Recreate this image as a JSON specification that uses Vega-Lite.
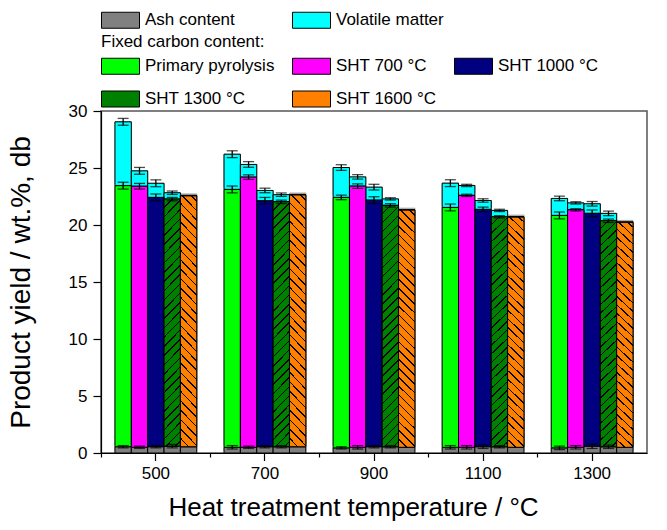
{
  "$schema": "https://vega.github.io/schema/vega-lite/v6.json",
  "width": 546,
  "height": 342,
  "autosize": {"type": "none"},
  "padding": {"left": 101, "top": 111, "right": 20, "bottom": 77},
  "config": {
    "font": "Liberation Sans",
    "view": {"stroke": "#555555", "strokeWidth": 1.5},
    "axis": {"grid": false, "domainColor": "black", "tickColor": "black", "labelColor": "black", "titleColor": "black", "labelFontSize": 17, "titleFontWeight": "normal", "domainWidth": 1.2, "tickWidth": 1.2},
    "legend": {"labelFontSize": 17, "labelColor": "black", "titleFontSize": 17, "titleFontWeight": "normal", "titleColor": "black", "padding": 0, "symbolType": "M-1,-1H3.75V1H-1Z", "symbolSize": 256, "symbolStrokeColor": "black", "symbolStrokeWidth": 1, "labelOffset": 27, "symbolOpacity": 1, "direction": "horizontal"}
  },
  "data": {"values": [
    {"t": 500, "s": "Primary pyrolysis", "c": "Ash content", "v": 0.55, "e": 0.1},
    {"t": 500, "s": "Primary pyrolysis", "c": "Fixed carbon", "v": 22.9, "e": 0.3},
    {"t": 500, "s": "Primary pyrolysis", "c": "Volatile matter", "v": 5.6, "e": 0.3},
    {"t": 500, "s": "SHT 700 °C", "c": "Ash content", "v": 0.5, "e": 0.1},
    {"t": 500, "s": "SHT 700 °C", "c": "Fixed carbon", "v": 22.9, "e": 0.25},
    {"t": 500, "s": "SHT 700 °C", "c": "Volatile matter", "v": 1.35, "e": 0.3},
    {"t": 500, "s": "SHT 1000 °C", "c": "Ash content", "v": 0.55, "e": 0.1},
    {"t": 500, "s": "SHT 1000 °C", "c": "Fixed carbon", "v": 21.87, "e": 0.3},
    {"t": 500, "s": "SHT 1000 °C", "c": "Volatile matter", "v": 1.24, "e": 0.3},
    {"t": 500, "s": "SHT 1300 °C", "c": "Ash content", "v": 0.6, "e": 0.15},
    {"t": 500, "s": "SHT 1300 °C", "c": "Fixed carbon", "v": 21.67, "e": 0.15},
    {"t": 500, "s": "SHT 1300 °C", "c": "Volatile matter", "v": 0.56, "e": 0.15},
    {"t": 500, "s": "SHT 1600 °C", "c": "Ash content", "v": 0.55, "e": 0},
    {"t": 500, "s": "SHT 1600 °C", "c": "Fixed carbon", "v": 22.0, "e": 0},
    {"t": 500, "s": "SHT 1600 °C", "c": "Volatile matter", "v": 0.05, "e": 0},
    {"t": 700, "s": "Primary pyrolysis", "c": "Ash content", "v": 0.5, "e": 0.15},
    {"t": 700, "s": "Primary pyrolysis", "c": "Fixed carbon", "v": 22.62, "e": 0.3},
    {"t": 700, "s": "Primary pyrolysis", "c": "Volatile matter", "v": 3.09, "e": 0.3},
    {"t": 700, "s": "SHT 700 °C", "c": "Ash content", "v": 0.5, "e": 0.1},
    {"t": 700, "s": "SHT 700 °C", "c": "Fixed carbon", "v": 23.7, "e": 0.2},
    {"t": 700, "s": "SHT 700 °C", "c": "Volatile matter", "v": 1.11, "e": 0.25},
    {"t": 700, "s": "SHT 1000 °C", "c": "Ash content", "v": 0.55, "e": 0.1},
    {"t": 700, "s": "SHT 1000 °C", "c": "Fixed carbon", "v": 21.57, "e": 0.3},
    {"t": 700, "s": "SHT 1000 °C", "c": "Volatile matter", "v": 0.91, "e": 0.2},
    {"t": 700, "s": "SHT 1300 °C", "c": "Ash content", "v": 0.55, "e": 0.1},
    {"t": 700, "s": "SHT 1300 °C", "c": "Fixed carbon", "v": 21.48, "e": 0.15},
    {"t": 700, "s": "SHT 1300 °C", "c": "Volatile matter", "v": 0.63, "e": 0.15},
    {"t": 700, "s": "SHT 1600 °C", "c": "Ash content", "v": 0.55, "e": 0},
    {"t": 700, "s": "SHT 1600 °C", "c": "Fixed carbon", "v": 22.08, "e": 0},
    {"t": 700, "s": "SHT 1600 °C", "c": "Volatile matter", "v": 0.05, "e": 0},
    {"t": 900, "s": "Primary pyrolysis", "c": "Ash content", "v": 0.45, "e": 0.1},
    {"t": 900, "s": "Primary pyrolysis", "c": "Fixed carbon", "v": 21.97, "e": 0.2},
    {"t": 900, "s": "Primary pyrolysis", "c": "Volatile matter", "v": 2.62, "e": 0.25},
    {"t": 900, "s": "SHT 700 °C", "c": "Ash content", "v": 0.5, "e": 0.15},
    {"t": 900, "s": "SHT 700 °C", "c": "Fixed carbon", "v": 22.91, "e": 0.2},
    {"t": 900, "s": "SHT 700 °C", "c": "Volatile matter", "v": 0.81, "e": 0.2},
    {"t": 900, "s": "SHT 1000 °C", "c": "Ash content", "v": 0.55, "e": 0.1},
    {"t": 900, "s": "SHT 1000 °C", "c": "Fixed carbon", "v": 21.63, "e": 0.3},
    {"t": 900, "s": "SHT 1000 °C", "c": "Volatile matter", "v": 1.14, "e": 0.25},
    {"t": 900, "s": "SHT 1300 °C", "c": "Ash content", "v": 0.55, "e": 0.1},
    {"t": 900, "s": "SHT 1300 °C", "c": "Fixed carbon", "v": 21.17, "e": 0.15},
    {"t": 900, "s": "SHT 1300 °C", "c": "Volatile matter", "v": 0.57, "e": 0.1},
    {"t": 900, "s": "SHT 1600 °C", "c": "Ash content", "v": 0.5, "e": 0},
    {"t": 900, "s": "SHT 1600 °C", "c": "Fixed carbon", "v": 20.8, "e": 0},
    {"t": 900, "s": "SHT 1600 °C", "c": "Volatile matter", "v": 0.05, "e": 0},
    {"t": 1100, "s": "Primary pyrolysis", "c": "Ash content", "v": 0.5, "e": 0.15},
    {"t": 1100, "s": "Primary pyrolysis", "c": "Fixed carbon", "v": 21.04, "e": 0.3},
    {"t": 1100, "s": "Primary pyrolysis", "c": "Volatile matter", "v": 2.13, "e": 0.3},
    {"t": 1100, "s": "SHT 700 °C", "c": "Ash content", "v": 0.5, "e": 0.15},
    {"t": 1100, "s": "SHT 700 °C", "c": "Fixed carbon", "v": 22.1, "e": 0.1},
    {"t": 1100, "s": "SHT 700 °C", "c": "Volatile matter", "v": 0.87, "e": 0.1},
    {"t": 1100, "s": "SHT 1000 °C", "c": "Ash content", "v": 0.55, "e": 0.15},
    {"t": 1100, "s": "SHT 1000 °C", "c": "Fixed carbon", "v": 20.82, "e": 0.2},
    {"t": 1100, "s": "SHT 1000 °C", "c": "Volatile matter", "v": 0.78, "e": 0.15},
    {"t": 1100, "s": "SHT 1300 °C", "c": "Ash content", "v": 0.55, "e": 0.1},
    {"t": 1100, "s": "SHT 1300 °C", "c": "Fixed carbon", "v": 20.17, "e": 0.1},
    {"t": 1100, "s": "SHT 1300 °C", "c": "Volatile matter", "v": 0.56, "e": 0.1},
    {"t": 1100, "s": "SHT 1600 °C", "c": "Ash content", "v": 0.5, "e": 0},
    {"t": 1100, "s": "SHT 1600 °C", "c": "Fixed carbon", "v": 20.19, "e": 0},
    {"t": 1100, "s": "SHT 1600 °C", "c": "Volatile matter", "v": 0.05, "e": 0},
    {"t": 1300, "s": "Primary pyrolysis", "c": "Ash content", "v": 0.45, "e": 0.15},
    {"t": 1300, "s": "Primary pyrolysis", "c": "Fixed carbon", "v": 20.39, "e": 0.3},
    {"t": 1300, "s": "Primary pyrolysis", "c": "Volatile matter", "v": 1.49, "e": 0.2},
    {"t": 1300, "s": "SHT 700 °C", "c": "Ash content", "v": 0.5, "e": 0.15},
    {"t": 1300, "s": "SHT 700 °C", "c": "Fixed carbon", "v": 20.83, "e": 0.1},
    {"t": 1300, "s": "SHT 700 °C", "c": "Volatile matter", "v": 0.61, "e": 0.1},
    {"t": 1300, "s": "SHT 1000 °C", "c": "Ash content", "v": 0.6, "e": 0.2},
    {"t": 1300, "s": "SHT 1000 °C", "c": "Fixed carbon", "v": 20.42, "e": 0.3},
    {"t": 1300, "s": "SHT 1000 °C", "c": "Volatile matter", "v": 0.84, "e": 0.2},
    {"t": 1300, "s": "SHT 1300 °C", "c": "Ash content", "v": 0.55, "e": 0.15},
    {"t": 1300, "s": "SHT 1300 °C", "c": "Fixed carbon", "v": 19.82, "e": 0.15},
    {"t": 1300, "s": "SHT 1300 °C", "c": "Volatile matter", "v": 0.65, "e": 0.2},
    {"t": 1300, "s": "SHT 1600 °C", "c": "Ash content", "v": 0.5, "e": 0},
    {"t": 1300, "s": "SHT 1600 °C", "c": "Fixed carbon", "v": 19.73, "e": 0},
    {"t": 1300, "s": "SHT 1600 °C", "c": "Volatile matter", "v": 0.05, "e": 0}
  ]},
  "transform": [
    {"stack": "v", "groupby": ["t", "s"], "sort": [{"field": "c", "order": "ascending"}], "as": ["y0", "y1"]}
  ],
  "layer": [
    {
      "mark": {"type": "bar", "fill": "#a8a8a8", "stroke": "#a8a8a8", "strokeWidth": 1, "xOffset": 2, "yOffset": -2},
      "encoding": {
        "x": {"field": "t", "type": "ordinal", "scale": {"paddingInner": 0.25, "paddingOuter": 0.128},
              "axis": {"orient": "bottom", "title": "Heat treatment temperature / °C", "titleFontSize": 26, "titleX": 252, "labelAngle": 0, "tickSize": 7.5, "labelPadding": 5, "titlePadding": 13}},
        "xOffset": {"field": "s", "type": "nominal", "sort": ["Primary pyrolysis", "SHT 700 °C", "SHT 1000 °C", "SHT 1300 °C", "SHT 1600 °C"], "scale": {"paddingInner": 0, "paddingOuter": 0}},
        "y": {"field": "y0", "type": "quantitative", "title": "Product yield / wt.%, db", "scale": {"domain": [0, 30], "nice": false},
              "axis": {"titleFontSize": 28, "values": [0, 2.5, 5, 7.5, 10, 12.5, 15, 17.5, 20, 22.5, 25, 27.5, 30], "labelExpr": "datum.value % 5 === 0 ? datum.label : ''", "tickSize": {"condition": {"test": "datum.value % 5 === 0", "value": 8}, "value": 4}, "labelPadding": 6, "titlePadding": 33}},
        "y2": {"field": "y1"}
      }
    },
    {
      "transform": [{"filter": "datum.c !== 'Fixed carbon'"}],
      "mark": {"type": "bar", "stroke": "black", "strokeWidth": 1},
      "encoding": {
        "x": {"field": "t", "type": "ordinal", "axis": null},
        "xOffset": {"field": "s", "type": "nominal", "sort": ["Primary pyrolysis", "SHT 700 °C", "SHT 1000 °C", "SHT 1300 °C", "SHT 1600 °C"]},
        "y": {"field": "y0", "type": "quantitative", "title": "Product yield / wt.%, db", "scale": {"domain": [0, 30], "nice": false}},
        "y2": {"field": "y1"},
        "fill": {"field": "c", "type": "nominal", "scale": {"domain": ["Ash content", "Volatile matter"], "range": ["#808080", "#00ffff"]},
                 "legend": {"orient": "none", "legendX": 0, "legendY": -99.5, "columns": 2, "title": null, "columnPadding": 55}}
      }
    },
    {
      "transform": [{"filter": "datum.c === 'Fixed carbon'"}],
      "mark": {"type": "bar", "stroke": "black", "strokeWidth": 1},
      "encoding": {
        "x": {"field": "t", "type": "ordinal", "axis": {"orient": "bottom", "bandPosition": -0.168, "labels": false, "title": null, "domain": false, "tickSize": 4}},
        "xOffset": {"field": "s", "type": "nominal", "sort": ["Primary pyrolysis", "SHT 700 °C", "SHT 1000 °C", "SHT 1300 °C", "SHT 1600 °C"]},
        "y": {"field": "y0", "type": "quantitative", "title": "Product yield / wt.%, db", "scale": {"domain": [0, 30], "nice": false}},
        "y2": {"field": "y1"},
        "fill": {"field": "s", "type": "nominal", "title": "Fixed carbon content:", "sort": ["Primary pyrolysis", "SHT 700 °C", "SHT 1000 °C", "SHT 1300 °C", "SHT 1600 °C"],
                 "scale": {"range": ["#00ff00", "#ff00ff", "#000080", "#008000", "#ff8000"]},
                 "legend": {"orient": "none", "legendX": 0, "legendY": -77, "columns": 3, "columnPadding": 15, "rowPadding": 12, "titlePadding": 6.5, "titleAnchor": "start"}}
      }
    },
    {
      "transform": [{"filter": "datum.c === 'Fixed carbon' && datum.s === 'SHT 1300 °C'"}],
      "mark": {"type": "bar", "stroke": "black", "strokeWidth": 1, "fill": {"gradient": "linear", "x1": 0, "y1": 0, "x2": 0.0725, "y2": 1.066, "stops": [
        {"offset": 0, "color": "#008000"},
        {"offset": 0.029, "color": "#008000"}, {"offset": 0.029, "color": "#000000"}, {"offset": 0.035, "color": "#000000"}, {"offset": 0.035, "color": "#008000"},
        {"offset": 0.064, "color": "#008000"}, {"offset": 0.064, "color": "#000000"}, {"offset": 0.07, "color": "#000000"}, {"offset": 0.07, "color": "#008000"},
        {"offset": 0.099, "color": "#008000"}, {"offset": 0.099, "color": "#000000"}, {"offset": 0.105, "color": "#000000"}, {"offset": 0.105, "color": "#008000"},
        {"offset": 0.134, "color": "#008000"}, {"offset": 0.134, "color": "#000000"}, {"offset": 0.14, "color": "#000000"}, {"offset": 0.14, "color": "#008000"},
        {"offset": 0.169, "color": "#008000"}, {"offset": 0.169, "color": "#000000"}, {"offset": 0.175, "color": "#000000"}, {"offset": 0.175, "color": "#008000"},
        {"offset": 0.204, "color": "#008000"}, {"offset": 0.204, "color": "#000000"}, {"offset": 0.21, "color": "#000000"}, {"offset": 0.21, "color": "#008000"},
        {"offset": 0.239, "color": "#008000"}, {"offset": 0.239, "color": "#000000"}, {"offset": 0.245, "color": "#000000"}, {"offset": 0.245, "color": "#008000"},
        {"offset": 0.274, "color": "#008000"}, {"offset": 0.274, "color": "#000000"}, {"offset": 0.28, "color": "#000000"}, {"offset": 0.28, "color": "#008000"},
        {"offset": 0.309, "color": "#008000"}, {"offset": 0.309, "color": "#000000"}, {"offset": 0.315, "color": "#000000"}, {"offset": 0.315, "color": "#008000"},
        {"offset": 0.344, "color": "#008000"}, {"offset": 0.344, "color": "#000000"}, {"offset": 0.35, "color": "#000000"}, {"offset": 0.35, "color": "#008000"},
        {"offset": 0.379, "color": "#008000"}, {"offset": 0.379, "color": "#000000"}, {"offset": 0.385, "color": "#000000"}, {"offset": 0.385, "color": "#008000"},
        {"offset": 0.414, "color": "#008000"}, {"offset": 0.414, "color": "#000000"}, {"offset": 0.42, "color": "#000000"}, {"offset": 0.42, "color": "#008000"},
        {"offset": 0.449, "color": "#008000"}, {"offset": 0.449, "color": "#000000"}, {"offset": 0.455, "color": "#000000"}, {"offset": 0.455, "color": "#008000"},
        {"offset": 0.484, "color": "#008000"}, {"offset": 0.484, "color": "#000000"}, {"offset": 0.49, "color": "#000000"}, {"offset": 0.49, "color": "#008000"},
        {"offset": 0.519, "color": "#008000"}, {"offset": 0.519, "color": "#000000"}, {"offset": 0.525, "color": "#000000"}, {"offset": 0.525, "color": "#008000"},
        {"offset": 0.554, "color": "#008000"}, {"offset": 0.554, "color": "#000000"}, {"offset": 0.56, "color": "#000000"}, {"offset": 0.56, "color": "#008000"},
        {"offset": 0.589, "color": "#008000"}, {"offset": 0.589, "color": "#000000"}, {"offset": 0.595, "color": "#000000"}, {"offset": 0.595, "color": "#008000"},
        {"offset": 0.624, "color": "#008000"}, {"offset": 0.624, "color": "#000000"}, {"offset": 0.63, "color": "#000000"}, {"offset": 0.63, "color": "#008000"},
        {"offset": 0.659, "color": "#008000"}, {"offset": 0.659, "color": "#000000"}, {"offset": 0.665, "color": "#000000"}, {"offset": 0.665, "color": "#008000"},
        {"offset": 0.694, "color": "#008000"}, {"offset": 0.694, "color": "#000000"}, {"offset": 0.7, "color": "#000000"}, {"offset": 0.7, "color": "#008000"},
        {"offset": 0.729, "color": "#008000"}, {"offset": 0.729, "color": "#000000"}, {"offset": 0.735, "color": "#000000"}, {"offset": 0.735, "color": "#008000"},
        {"offset": 0.764, "color": "#008000"}, {"offset": 0.764, "color": "#000000"}, {"offset": 0.77, "color": "#000000"}, {"offset": 0.77, "color": "#008000"},
        {"offset": 0.799, "color": "#008000"}, {"offset": 0.799, "color": "#000000"}, {"offset": 0.805, "color": "#000000"}, {"offset": 0.805, "color": "#008000"},
        {"offset": 0.834, "color": "#008000"}, {"offset": 0.834, "color": "#000000"}, {"offset": 0.84, "color": "#000000"}, {"offset": 0.84, "color": "#008000"},
        {"offset": 0.869, "color": "#008000"}, {"offset": 0.869, "color": "#000000"}, {"offset": 0.875, "color": "#000000"}, {"offset": 0.875, "color": "#008000"},
        {"offset": 0.904, "color": "#008000"}, {"offset": 0.904, "color": "#000000"}, {"offset": 0.91, "color": "#000000"}, {"offset": 0.91, "color": "#008000"},
        {"offset": 0.939, "color": "#008000"}, {"offset": 0.939, "color": "#000000"}, {"offset": 0.945, "color": "#000000"}, {"offset": 0.945, "color": "#008000"},
        {"offset": 0.974, "color": "#008000"}, {"offset": 0.974, "color": "#000000"}, {"offset": 0.98, "color": "#000000"}, {"offset": 0.98, "color": "#008000"},
        {"offset": 1, "color": "#008000"}]}},
      "encoding": {
        "x": {"field": "t", "type": "ordinal", "axis": null},
        "xOffset": {"field": "s", "type": "nominal", "sort": ["Primary pyrolysis", "SHT 700 °C", "SHT 1000 °C", "SHT 1300 °C", "SHT 1600 °C"]},
        "y": {"field": "y0", "type": "quantitative", "title": "Product yield / wt.%, db", "scale": {"domain": [0, 30], "nice": false}},
        "y2": {"field": "y1"}
      }
    },
    {
      "transform": [{"filter": "datum.c === 'Fixed carbon' && datum.s === 'SHT 1600 °C'"}],
      "mark": {"type": "bar", "stroke": "black", "strokeWidth": 1, "fill": {"gradient": "linear", "x1": 0, "y1": 1, "x2": 0.0725, "y2": -0.066, "stops": [
        {"offset": 0, "color": "#ff8000"},
        {"offset": 0.029, "color": "#ff8000"}, {"offset": 0.029, "color": "#000000"}, {"offset": 0.035, "color": "#000000"}, {"offset": 0.035, "color": "#ff8000"},
        {"offset": 0.064, "color": "#ff8000"}, {"offset": 0.064, "color": "#000000"}, {"offset": 0.07, "color": "#000000"}, {"offset": 0.07, "color": "#ff8000"},
        {"offset": 0.099, "color": "#ff8000"}, {"offset": 0.099, "color": "#000000"}, {"offset": 0.105, "color": "#000000"}, {"offset": 0.105, "color": "#ff8000"},
        {"offset": 0.134, "color": "#ff8000"}, {"offset": 0.134, "color": "#000000"}, {"offset": 0.14, "color": "#000000"}, {"offset": 0.14, "color": "#ff8000"},
        {"offset": 0.169, "color": "#ff8000"}, {"offset": 0.169, "color": "#000000"}, {"offset": 0.175, "color": "#000000"}, {"offset": 0.175, "color": "#ff8000"},
        {"offset": 0.204, "color": "#ff8000"}, {"offset": 0.204, "color": "#000000"}, {"offset": 0.21, "color": "#000000"}, {"offset": 0.21, "color": "#ff8000"},
        {"offset": 0.239, "color": "#ff8000"}, {"offset": 0.239, "color": "#000000"}, {"offset": 0.245, "color": "#000000"}, {"offset": 0.245, "color": "#ff8000"},
        {"offset": 0.274, "color": "#ff8000"}, {"offset": 0.274, "color": "#000000"}, {"offset": 0.28, "color": "#000000"}, {"offset": 0.28, "color": "#ff8000"},
        {"offset": 0.309, "color": "#ff8000"}, {"offset": 0.309, "color": "#000000"}, {"offset": 0.315, "color": "#000000"}, {"offset": 0.315, "color": "#ff8000"},
        {"offset": 0.344, "color": "#ff8000"}, {"offset": 0.344, "color": "#000000"}, {"offset": 0.35, "color": "#000000"}, {"offset": 0.35, "color": "#ff8000"},
        {"offset": 0.379, "color": "#ff8000"}, {"offset": 0.379, "color": "#000000"}, {"offset": 0.385, "color": "#000000"}, {"offset": 0.385, "color": "#ff8000"},
        {"offset": 0.414, "color": "#ff8000"}, {"offset": 0.414, "color": "#000000"}, {"offset": 0.42, "color": "#000000"}, {"offset": 0.42, "color": "#ff8000"},
        {"offset": 0.449, "color": "#ff8000"}, {"offset": 0.449, "color": "#000000"}, {"offset": 0.455, "color": "#000000"}, {"offset": 0.455, "color": "#ff8000"},
        {"offset": 0.484, "color": "#ff8000"}, {"offset": 0.484, "color": "#000000"}, {"offset": 0.49, "color": "#000000"}, {"offset": 0.49, "color": "#ff8000"},
        {"offset": 0.519, "color": "#ff8000"}, {"offset": 0.519, "color": "#000000"}, {"offset": 0.525, "color": "#000000"}, {"offset": 0.525, "color": "#ff8000"},
        {"offset": 0.554, "color": "#ff8000"}, {"offset": 0.554, "color": "#000000"}, {"offset": 0.56, "color": "#000000"}, {"offset": 0.56, "color": "#ff8000"},
        {"offset": 0.589, "color": "#ff8000"}, {"offset": 0.589, "color": "#000000"}, {"offset": 0.595, "color": "#000000"}, {"offset": 0.595, "color": "#ff8000"},
        {"offset": 0.624, "color": "#ff8000"}, {"offset": 0.624, "color": "#000000"}, {"offset": 0.63, "color": "#000000"}, {"offset": 0.63, "color": "#ff8000"},
        {"offset": 0.659, "color": "#ff8000"}, {"offset": 0.659, "color": "#000000"}, {"offset": 0.665, "color": "#000000"}, {"offset": 0.665, "color": "#ff8000"},
        {"offset": 0.694, "color": "#ff8000"}, {"offset": 0.694, "color": "#000000"}, {"offset": 0.7, "color": "#000000"}, {"offset": 0.7, "color": "#ff8000"},
        {"offset": 0.729, "color": "#ff8000"}, {"offset": 0.729, "color": "#000000"}, {"offset": 0.735, "color": "#000000"}, {"offset": 0.735, "color": "#ff8000"},
        {"offset": 0.764, "color": "#ff8000"}, {"offset": 0.764, "color": "#000000"}, {"offset": 0.77, "color": "#000000"}, {"offset": 0.77, "color": "#ff8000"},
        {"offset": 0.799, "color": "#ff8000"}, {"offset": 0.799, "color": "#000000"}, {"offset": 0.805, "color": "#000000"}, {"offset": 0.805, "color": "#ff8000"},
        {"offset": 0.834, "color": "#ff8000"}, {"offset": 0.834, "color": "#000000"}, {"offset": 0.84, "color": "#000000"}, {"offset": 0.84, "color": "#ff8000"},
        {"offset": 0.869, "color": "#ff8000"}, {"offset": 0.869, "color": "#000000"}, {"offset": 0.875, "color": "#000000"}, {"offset": 0.875, "color": "#ff8000"},
        {"offset": 0.904, "color": "#ff8000"}, {"offset": 0.904, "color": "#000000"}, {"offset": 0.91, "color": "#000000"}, {"offset": 0.91, "color": "#ff8000"},
        {"offset": 0.939, "color": "#ff8000"}, {"offset": 0.939, "color": "#000000"}, {"offset": 0.945, "color": "#000000"}, {"offset": 0.945, "color": "#ff8000"},
        {"offset": 0.974, "color": "#ff8000"}, {"offset": 0.974, "color": "#000000"}, {"offset": 0.98, "color": "#000000"}, {"offset": 0.98, "color": "#ff8000"},
        {"offset": 1, "color": "#ff8000"}]}},
      "encoding": {
        "x": {"field": "t", "type": "ordinal", "axis": null},
        "xOffset": {"field": "s", "type": "nominal", "sort": ["Primary pyrolysis", "SHT 700 °C", "SHT 1000 °C", "SHT 1300 °C", "SHT 1600 °C"]},
        "y": {"field": "y0", "type": "quantitative", "title": "Product yield / wt.%, db", "scale": {"domain": [0, 30], "nice": false}},
        "y2": {"field": "y1"}
      }
    },
    {
      "transform": [{"filter": "datum.e > 0"}],
      "mark": {"type": "errorbar", "ticks": {"size": 11, "thickness": 1.3, "color": "black"}, "rule": {"strokeWidth": 1.3, "color": "black"}},
      "encoding": {
        "x": {"field": "t", "type": "ordinal", "axis": null},
        "xOffset": {"field": "s", "type": "nominal", "sort": ["Primary pyrolysis", "SHT 700 °C", "SHT 1000 °C", "SHT 1300 °C", "SHT 1600 °C"]},
        "y": {"field": "y1", "type": "quantitative", "title": "Product yield / wt.%, db", "scale": {"domain": [0, 30], "nice": false}},
        "yError": {"field": "e"}
      }
    }
  ],
  "resolve": {"scale": {"fill": "independent"}, "axis": {"x": "independent"}}
}
